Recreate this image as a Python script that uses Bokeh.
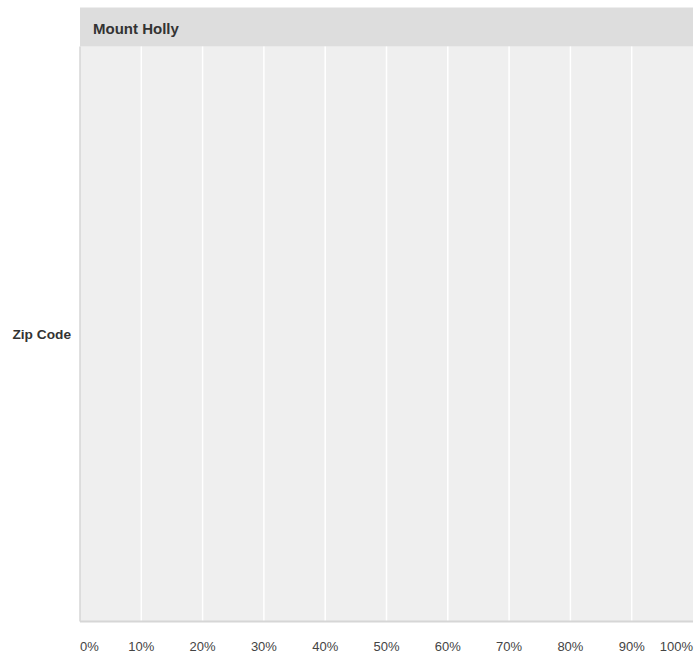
from bokeh.plotting import figure
from bokeh.models import Range1d, ColumnDataSource
from bokeh.core.properties import value
from bokeh.embed import file_html
from bokeh.resources import INLINE

# ---- data ----
facet_title = "Mount Holly"
y_axis_title = "Zip Code"
zip_codes = []          # no rows in this facet
shares = []             # no values in this facet
tick_values = [0.0, 0.1, 0.2, 0.3, 0.4, 0.5, 0.6, 0.7, 0.8, 0.9, 1.0]
tick_labels = ["0%", "10%", "20%", "30%", "40%", "50%", "60%", "70%", "80%", "90%", "100%"]

# ---- layout (pixels) ----
W, H = 694, 658
left_px, right_px = 79.5, 1.5      # space left / right of panel
top_px, header_px, bottom_px = 7, 39, 37
panel_w = W - left_px - right_px
panel_h = H - top_px - header_px - bottom_px

x_range = Range1d(-left_px / panel_w, 1 + right_px / panel_w)
y_range = Range1d(-bottom_px / panel_h, 1 + (header_px + top_px) / panel_h)
header_top = 1 + header_px / panel_h

p = figure(width=W, height=H, x_range=x_range, y_range=y_range,
           output_backend="svg", toolbar_location=None,
           min_border=0, min_border_left=0, min_border_right=0,
           min_border_top=0, min_border_bottom=0)
p.axis.visible = False
p.grid.visible = False
p.outline_line_color = None
p.background_fill_color = "white"
p.border_fill_color = "white"

FONT = value("Liberation Sans")

# panel background
p.quad(left=[tick_values[0]], right=[tick_values[-1]], bottom=[0], top=[1],
       fill_color="#efefef", line_color=None)
# header strip
p.quad(left=[tick_values[0]], right=[tick_values[-1]], bottom=[1], top=[header_top],
       fill_color="#dddddd", line_color=None)

# vertical gridlines
inner = tick_values[1:-1]
p.segment(x0=inner, x1=inner, y0=[0] * len(inner), y1=[1] * len(inner),
          line_color="white", line_width=1.5)

# bars (none in this facet)
if zip_codes:
    p.hbar(y=list(range(len(zip_codes))), right=shares, height=0.7, color="#4e79a7")

# axis lines
p.segment(x0=[0], x1=[0], y0=[0], y1=[1], line_color="#d6d6d6", line_width=1.5)
p.segment(x0=[0], x1=[1], y0=[0], y1=[0], line_color="#d6d6d6", line_width=2)

# tick labels
aligns = ["left"] + ["center"] * (len(tick_values) - 2) + ["right"]
src = ColumnDataSource(dict(x=tick_values, y=[0] * len(tick_values),
                            t=tick_labels, a=aligns))
p.text(x="x", y="y", text="t", source=src, text_align="a",
       text_baseline="middle", y_offset=24.5, text_font=FONT,
       text_font_size="13px", text_color="#444444")

# facet title
p.text(x=[0], y=[1 + (header_px / 2) / panel_h], text=[facet_title],
       x_offset=13, y_offset=1, text_baseline="middle", text_align="left",
       text_font=FONT, text_font_style="bold", text_font_size="15px",
       text_color="#333333")

# y axis title
p.text(x=[0], y=[0.5], text=[y_axis_title], x_offset=-9,
       text_baseline="middle", text_align="right",
       text_font=FONT, text_font_style="bold", text_font_size="13.7px",
       text_color="#333333")

open("out.html", "w").write(file_html(p, INLINE))
